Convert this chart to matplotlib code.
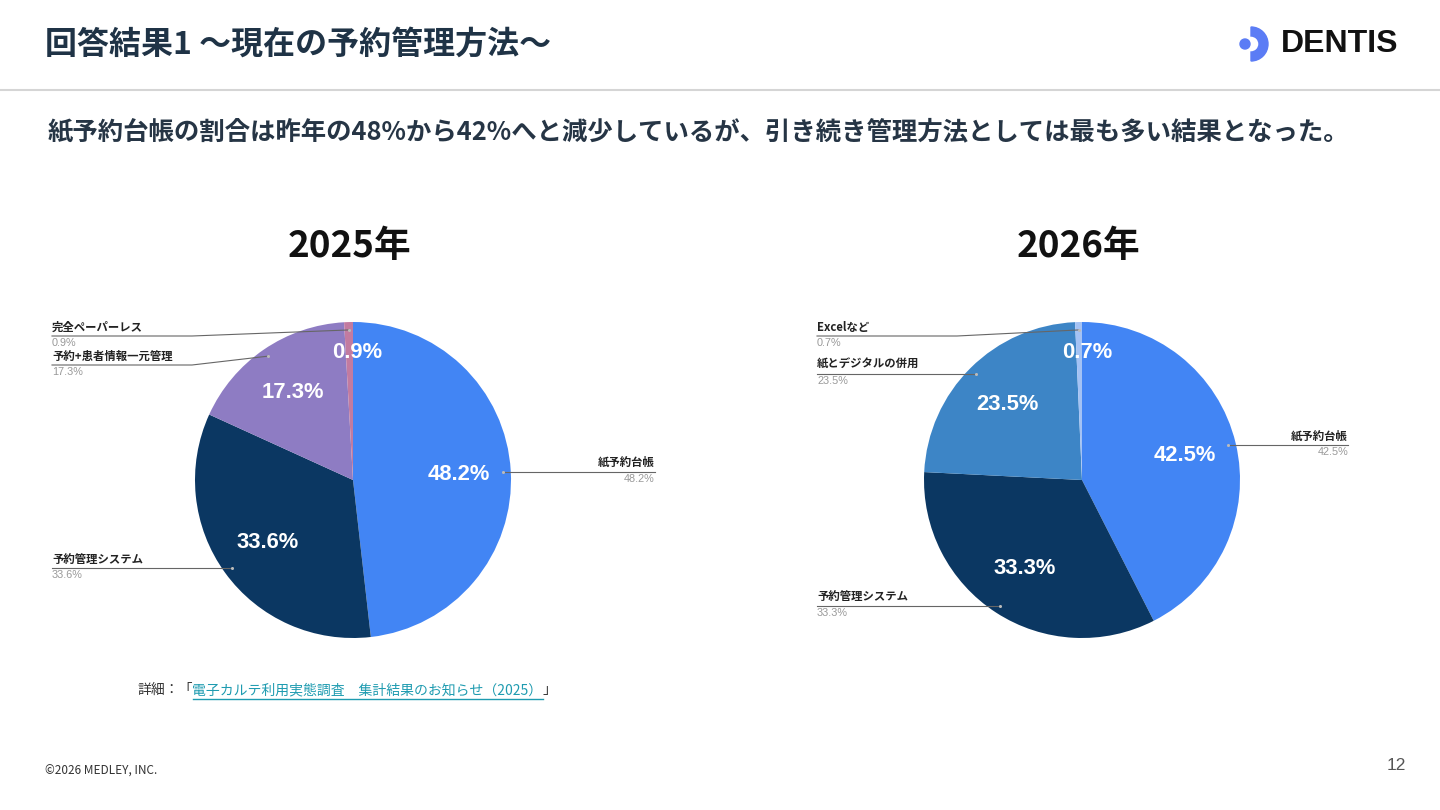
import numpy as np
import matplotlib
matplotlib.use("Agg")
import matplotlib.pyplot as plt
from matplotlib.patches import Wedge, Circle

plt.rcParams['font.family'] = ['Noto Sans CJK JP', 'DejaVu Sans']

# ---------------- data ----------------
title = "回答結果1 〜現在の予約管理方法〜"
subtitle = "紙予約台帳の割合は昨年の48%から42%へと減少しているが、引き続き管理方法としては最も多い結果となった。"

years = ["2025年", "2026年"]
labels_2025 = ["紙予約台帳", "予約管理システム", "予約+患者情報一元管理", "完全ペーパーレス"]
values_2025 = [48.2, 33.6, 17.3, 0.9]
labels_2026 = ["紙予約台帳", "予約管理システム", "紙とデジタルの併用", "Excelなど"]
values_2026 = [42.5, 33.3, 23.5, 0.7]

colors_2025 = ["#4285F4", "#0B3762", "#8E7CC3", "#C27BA0"]
colors_2026 = ["#4285F4", "#0B3762", "#3D85C6", "#A4C2F4"]

source_prefix = "詳細：「"
source_link = "電子カルテ利用実態調査　集計結果のお知らせ（2025）"
source_suffix = "」"
footer = "©2026 MEDLEY, INC."
page_no = "12"

# ---------------- layout ----------------
W, H = 1440, 810
fig = plt.figure(figsize=(14.4, 8.1), dpi=100)
fig.patch.set_facecolor("white")

pies = [
    dict(cx=353, cy=480, r=158, labels=labels_2025, values=values_2025, colors=colors_2025,
         left_x=52, right_x=655, title_x=349),
    dict(cx=1082, cy=480, r=158, labels=labels_2026, values=values_2026, colors=colors_2026,
         left_x=817, right_x=1348, title_x=1078),
]

for p in pies:
    ax = fig.add_axes([(p["cx"] - p["r"]) / W, (H - p["cy"] - p["r"]) / H,
                       2 * p["r"] / W, 2 * p["r"] / H])
    ax.pie(p["values"], colors=p["colors"], startangle=90, counterclock=False,
           radius=1.0, wedgeprops=dict(linewidth=0))
    ax.set_xlim(-1, 1)
    ax.set_ylim(-1, 1)
    ax.set_aspect("auto")
    ax.axis("off")

# overlay axes in pixel coordinates (y down)
ov = fig.add_axes([0, 0, 1, 1])
ov.set_xlim(0, W)
ov.set_ylim(H, 0)
ov.axis("off")

# header
ov.text(45, 45, title, fontsize=23, fontweight="bold", color="#1F3346", va="center", ha="left")
ov.plot([0, W], [90, 90], color="#D5D5D5", lw=1.5)
ov.text(48, 133, subtitle, fontsize=18.3, fontweight="bold", color="#263545", va="center", ha="left")

# logo
ov.add_patch(Circle((1245, 44), 5, color="#5B7CF5"))
ov.add_patch(Wedge((1251, 44), 17, -90, 90, width=9, color="#5B7CF5"))
ov.text(1281, 44, "DENTIS", fontsize=23, fontweight="bold", color="#111111",
        family=["Liberation Sans", "DejaVu Sans"], va="center", ha="left")

for i, p in enumerate(pies):
    cx, cy, r = p["cx"], p["cy"], p["r"]
    ov.text(p["title_x"], 246, years[i], fontsize=26.5, fontweight="bold",
            color="#111111", ha="center", va="center")
    vals = np.array(p["values"])
    cum = np.cumsum(vals) - vals / 2
    mids = np.deg2rad(90 - cum * 3.6)
    left_items = []
    for lab, v, a in zip(p["labels"], vals, mids):
        # inner percentage label
        f = 0.81 if v < 5 else 0.67
        tx = cx + f * r * np.cos(a)
        ty = cy - f * r * np.sin(a)
        if v < 5:
            tx += 8
        ov.text(tx, ty, f"{v:.1f}%", fontsize=15.8, fontweight="bold", color="white",
                family=["Liberation Sans", "DejaVu Sans"], ha="center", va="center")
        # leader dot
        dx = cx + 0.95 * r * np.cos(a)
        dy = cy - 0.95 * r * np.sin(a)
        if np.cos(a) > 0:
            ov.plot([dx, p["right_x"]], [dy, dy], color="#666666", lw=0.8)
            ov.plot(dx, dy, "o", ms=2.2, color="#BBBBBB", mec="none")
            ov.text(p["right_x"], dy - 2.5, lab, fontsize=8.2, fontweight="bold", color="#222222",
                    ha="right", va="bottom")
            ov.text(p["right_x"], dy + 2, f"{v:.1f}%", fontsize=7.8, color="#999999",
                    family=["Liberation Sans", "DejaVu Sans"], ha="right", va="top")
        else:
            left_items.append((dy, dx, lab, v))
    left_items.sort()
    prev = None
    for dy, dx, lab, v in left_items:
        ly = max(dy, 336)
        if prev is not None:
            ly = max(ly, prev + 29)
        prev = ly
        bend = min(p["left_x"] + 140, dx)
        ov.plot([p["left_x"], bend, dx], [ly, ly, dy], color="#666666", lw=0.8)
        ov.plot(dx, dy, "o", ms=2.2, color="#BBBBBB", mec="none")
        ov.text(p["left_x"], ly - 2.5, lab, fontsize=8.2, fontweight="bold", color="#222222",
                ha="left", va="bottom")
        ov.text(p["left_x"], ly + 2, f"{v:.1f}%", fontsize=7.8, color="#999999",
                family=["Liberation Sans", "DejaVu Sans"], ha="left", va="top")

# source line
t1 = ov.text(137, 690, source_prefix, fontsize=10, color="#333333", ha="left", va="center")
fig.canvas.draw()
bb = t1.get_window_extent()
t2 = ov.text(bb.x1, 690, source_link, fontsize=10, color="#1E9BB0", ha="left", va="center")
fig.canvas.draw()
bb2 = t2.get_window_extent()
ov.plot([bb2.x0, bb2.x1], [699, 699], color="#1E9BB0", lw=1)
ov.text(bb2.x1, 690, source_suffix, fontsize=10, color="#333333", ha="left", va="center")

# footer
ov.text(45, 771, footer, fontsize=8.5, color="#333333", ha="left", va="center")
ov.text(1406, 766, page_no, fontsize=12.5, color="#555555", ha="right", va="center",
        family=["Liberation Sans", "DejaVu Sans"])

fig.savefig("out.png", dpi=100, facecolor="white")
